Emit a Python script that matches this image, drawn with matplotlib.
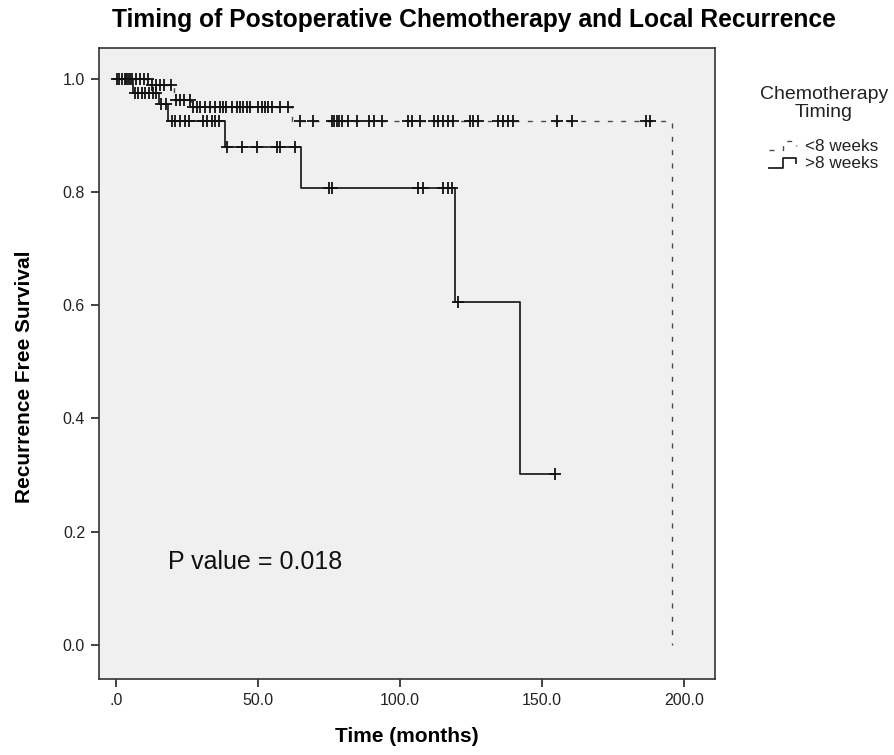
import numpy as np
import matplotlib
matplotlib.use("Agg")
import matplotlib.pyplot as plt
from matplotlib.legend_handler import HandlerBase
from matplotlib.lines import Line2D

plt.rcParams['font.family'] = ['Liberation Sans', 'DejaVu Sans']

# Kaplan-Meier estimates: event times (months) and survival after each event
early_event_times = [12.0, 20.3, 26.5, 61.8, 195.6]
early_survival = [0.988, 0.963, 0.949, 0.925, 0.0]
early_censored = [0.5, 2.0, 3.0, 4.2, 5.5, 7.0, 8.5, 10.0, 11.2,
                  12.8, 14.0, 15.5, 17.0, 19.2,
                  21.2, 22.6, 24.0, 26.0,
                  27.2, 28.4, 29.6, 31.3, 33.1, 34.9, 36.6, 37.6, 38.7, 40.7,
                  42.5, 43.7, 44.8, 46.0, 47.2, 50.1, 51.3, 52.5, 53.6, 54.8,
                  57.7, 60.7,
                  64.8, 69.5, 75.9, 76.9, 77.7, 78.6, 79.4, 81.8, 85.0, 88.9,
                  91.0, 93.5, 102.9, 104.1, 107.0, 112.0, 113.5, 115.2, 117.0,
                  118.8, 124.6, 125.8, 127.6, 134.6, 136.3, 138.1, 139.9,
                  155.1, 160.6, 186.6, 188.0]

late_event_times = [6.1, 15.3, 18.4, 38.4, 65.3, 119.3, 142.2]
late_survival = [0.975, 0.955, 0.925, 0.879, 0.806, 0.605, 0.302]
late_last_followup = 154.6
late_censored = [1.0, 3.5, 5.0,
                 6.7, 7.9, 9.1, 10.3, 11.5, 12.9, 14.1,
                 16.0, 17.5,
                 19.6, 20.8, 22.5, 24.3, 25.8, 30.7, 31.9, 33.7, 34.9, 36.1,
                 39.0, 44.2, 49.8, 56.5, 57.7, 63.0,
                 75.0, 76.2, 106.4, 108.2, 115.2, 117.0, 118.2,
                 120.5, 154.6]

group_labels = ["<8 weeks", ">8 weeks"]
x_ticks = [0, 50, 100, 150, 200]
x_ticklabels = [".0", "50.0", "100.0", "150.0", "200.0"]
y_ticks = [0.0, 0.2, 0.4, 0.6, 0.8, 1.0]
p_value_text = "P value = 0.018"


def level_at(times, event_times, survival):
    idx = np.searchsorted(event_times, times, side="right")
    return np.r_[1.0, survival][idx]


class StepHandler(HandlerBase):
    """Legend key drawn as a small step, like the curves."""

    def create_artists(self, legend, orig_handle, xdescent, ydescent,
                       width, height, fontsize, trans):
        x0, y0 = -xdescent, -ydescent
        xs = [x0, x0 + 0.45 * width, x0 + 0.45 * width,
              x0 + 0.85 * width, x0 + 0.85 * width]
        ys = [y0 + 0.05 * height, y0 + 0.05 * height, y0 + 0.85 * height,
              y0 + 0.85 * height, y0 + 0.4 * height]
        line = Line2D(xs, ys)
        line.update_from(orig_handle)
        line.set_clip_on(False)
        line.set_clip_box(None)
        line.set_transform(trans)
        return [line]


W, H = 895, 755
fig = plt.figure(figsize=(W / 100, H / 100), dpi=100)
fig.patch.set_facecolor("white")
ax = fig.add_axes([99 / W, 1 - 679 / H, (715 - 99) / W, (679 - 48) / H])
ax.set_facecolor("#f0f0f0")

# <8 weeks: dashed curve
ex = [0.0] + early_event_times
ey = [1.0] + early_survival
(early_line,) = ax.step(ex, ey, where="post", color="#4a4a4a", lw=1.0,
                        linestyle=(0, (3.6, 6.0)))
ax.plot(early_censored, level_at(early_censored, early_event_times, early_survival),
        linestyle="none", marker="+", ms=9, mew=1.3, color="#111111")

# >8 weeks: solid curve
lx = [0.0] + late_event_times + [late_last_followup]
ly = [1.0] + late_survival + [late_survival[-1]]
(late_line,) = ax.step(lx, ly, where="post", color="#222222", lw=1.3)
ax.plot(late_censored, level_at(late_censored, late_event_times, late_survival),
        linestyle="none", marker="+", ms=9, mew=1.3, color="#111111")

ax.set_xlim(-6.0, 210.9)
ax.set_ylim(-0.060, 1.054)
ax.set_xticks(x_ticks)
ax.set_xticklabels(x_ticklabels)
ax.set_yticks(y_ticks)
ax.set_yticklabels([f"{v:.1f}" for v in y_ticks])
ax.tick_params(axis="both", direction="out", length=6, width=1.2,
               labelsize=11.5, colors="#222222", pad=4)
for side in ["left", "right", "top", "bottom"]:
    ax.spines[side].set_linewidth(1.2)
    ax.spines[side].set_color("#333333")

ax.text(18.3, 0.146, p_value_text, fontsize=18, ha="left", va="center",
        color="#111111")

ax.set_xlabel("Time (months)", fontsize=15, fontweight="bold", labelpad=14)
ax.set_ylabel("Recurrence Free Survival", fontsize=15, fontweight="bold")
ax.yaxis.set_label_coords(-0.105, 0.479)
fig.text(474 / W, 1 - 20 / H,
         "Timing of Postoperative Chemotherapy and Local Recurrence",
         fontsize=17.7, fontweight="bold", ha="center", va="center")

leg = ax.legend([early_line, late_line], group_labels,
                handler_map={early_line: StepHandler(), late_line: StepHandler()},
                title="Chemotherapy\nTiming", frameon=False, fontsize=12.3,
                title_fontsize=14, loc="upper center",
                bbox_to_anchor=(824 / W, 1 - 86 / H),
                bbox_transform=fig.transFigure,
                handlelength=1.8, handletextpad=0.3, labelspacing=0.15,
                borderaxespad=0, borderpad=0)
leg.get_title().set_multialignment("center")
leg.get_title().set_linespacing(1.05)
leg.get_title().set_color("#222222")
for t in leg.get_texts():
    t.set_color("#222222")
leg._legend_box.sep = 13

fig.savefig("out.png", dpi=100, facecolor="white")
